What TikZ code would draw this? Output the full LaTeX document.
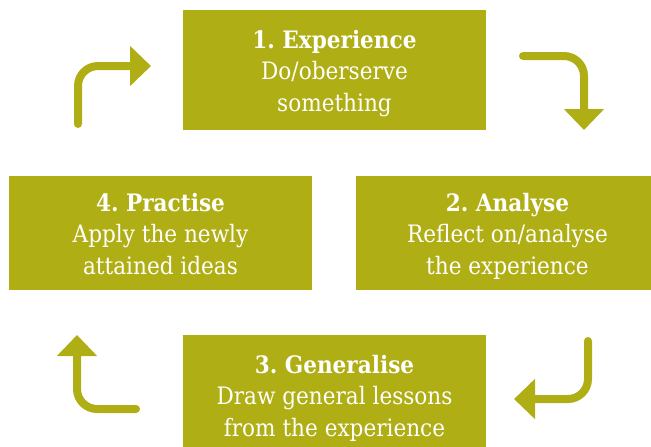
\documentclass[tikz,border=0pt]{standalone}
\usepackage{fontspec}
\setmainfont{DejaVu Serif Condensed}
\usetikzlibrary{arrows.meta}
\definecolor{boxolive}{RGB}{176,174,21}
\begin{document}
\frenchspacing
\begin{tikzpicture}[x=1pt,y=-1pt,
  box/.style={fill=boxolive, text=white, minimum width=303pt, minimum height=120pt,
    inner sep=0pt, align=center, text height=88pt, text depth=6pt,
    font=\fontsize{24}{31.5}\selectfont},
  flow/.style={draw=boxolive, line width=8pt, line cap=round, rounded corners=20pt,
    -{Triangle[length=21pt,width=39pt]}}]
\useasboundingbox (0,0) rectangle (651,447);
\clip (0,0) rectangle (651,447);
\node[box] (exp) at (334.5,70) {\textbf{1. Experience}\\Do/oberserve\\something};
\node[box, minimum height=114pt] (ana) at (507.5,233) {\textbf{2. Analyse}\\Reflect on/analyse\\the experience};
\node[box] (gen) at (334.5,395) {\textbf{3. Generalise}\\Draw general lessons\\from the experience};
\node[box, minimum height=114pt] (pra) at (160.5,233) {\textbf{4. Practise}\\Apply the newly\\attained ideas};
\coordinate (tls) at (78,124);
\coordinate (tle) at (151,66);
\coordinate (trs) at (523,56);
\coordinate (tre) at (584,130);
\coordinate (brs) at (588,341);
\coordinate (bre) at (514,399);
\coordinate (bls) at (136,409);
\coordinate (ble) at (77,335);
\draw[flow] (tls) |- (tle);
\draw[flow] (trs) -| (tre);
\draw[flow] (brs) |- (bre);
\draw[flow] (bls) -| (ble);
\end{tikzpicture}
\end{document}
